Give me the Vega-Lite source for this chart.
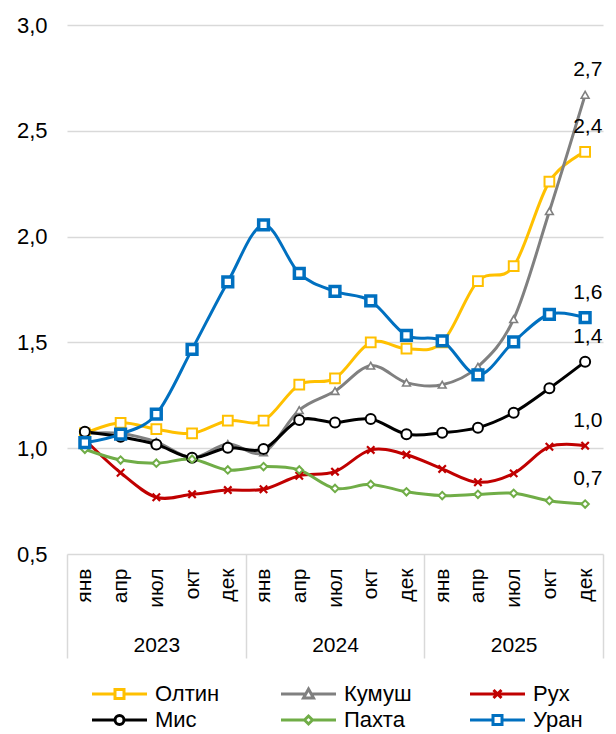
{
  "$schema": "https://vega.github.io/schema/vega-lite/v6.json",
  "width": 536,
  "height": 529,
  "autosize": "none",
  "padding": {"left": 67, "top": 25, "right": 13, "bottom": 180},
  "background": "white",
  "config": {
    "font": "Liberation Sans",
    "view": {"stroke": null},
    "locale": {"number": {"decimal": ",", "thousands": " ", "grouping": [3], "currency": ["", ""]}}
  },
  "data": {"values": [
    {"s":"Олтин","p":"2023 янв","v":1.07},{"s":"Олтин","p":"2023 апр","v":1.12},{"s":"Олтин","p":"2023 июл","v":1.09},{"s":"Олтин","p":"2023 окт","v":1.07},{"s":"Олтин","p":"2023 дек","v":1.13},
    {"s":"Олтин","p":"2024 янв","v":1.13},{"s":"Олтин","p":"2024 апр","v":1.30},{"s":"Олтин","p":"2024 июл","v":1.33},{"s":"Олтин","p":"2024 окт","v":1.50},{"s":"Олтин","p":"2024 дек","v":1.47},
    {"s":"Олтин","p":"2025 янв","v":1.50},{"s":"Олтин","p":"2025 апр","v":1.79},{"s":"Олтин","p":"2025 июл","v":1.86},{"s":"Олтин","p":"2025 окт","v":2.26},{"s":"Олтин","p":"2025 дек","v":2.40},
    {"s":"Кумуш","p":"2023 янв","v":1.07},{"s":"Кумуш","p":"2023 апр","v":1.07},{"s":"Кумуш","p":"2023 июл","v":1.03},{"s":"Кумуш","p":"2023 окт","v":0.955},{"s":"Кумуш","p":"2023 дек","v":1.02},
    {"s":"Кумуш","p":"2024 янв","v":0.98},{"s":"Кумуш","p":"2024 апр","v":1.18},{"s":"Кумуш","p":"2024 июл","v":1.27},{"s":"Кумуш","p":"2024 окт","v":1.39},{"s":"Кумуш","p":"2024 дек","v":1.31},
    {"s":"Кумуш","p":"2025 янв","v":1.30},{"s":"Кумуш","p":"2025 апр","v":1.385},{"s":"Кумуш","p":"2025 июл","v":1.61},{"s":"Кумуш","p":"2025 окт","v":2.12},{"s":"Кумуш","p":"2025 дек","v":2.67},
    {"s":"Рух","p":"2023 янв","v":1.04},{"s":"Рух","p":"2023 апр","v":0.884},{"s":"Рух","p":"2023 июл","v":0.768},{"s":"Рух","p":"2023 окт","v":0.782},{"s":"Рух","p":"2023 дек","v":0.802},
    {"s":"Рух","p":"2024 янв","v":0.806},{"s":"Рух","p":"2024 апр","v":0.870},{"s":"Рух","p":"2024 июл","v":0.889},{"s":"Рух","p":"2024 окт","v":0.992},{"s":"Рух","p":"2024 дек","v":0.969},
    {"s":"Рух","p":"2025 янв","v":0.902},{"s":"Рух","p":"2025 апр","v":0.839},{"s":"Рух","p":"2025 июл","v":0.881},{"s":"Рух","p":"2025 окт","v":1.007},{"s":"Рух","p":"2025 дек","v":1.012},
    {"s":"Мис","p":"2023 янв","v":1.078},{"s":"Мис","p":"2023 апр","v":1.054},{"s":"Мис","p":"2023 июл","v":1.018},{"s":"Мис","p":"2023 окт","v":0.955},{"s":"Мис","p":"2023 дек","v":1.002},
    {"s":"Мис","p":"2024 янв","v":0.996},{"s":"Мис","p":"2024 апр","v":1.133},{"s":"Мис","p":"2024 июл","v":1.122},{"s":"Мис","p":"2024 окт","v":1.138},{"s":"Мис","p":"2024 дек","v":1.066},
    {"s":"Мис","p":"2025 янв","v":1.073},{"s":"Мис","p":"2025 апр","v":1.097},{"s":"Мис","p":"2025 июл","v":1.168},{"s":"Мис","p":"2025 окт","v":1.283},{"s":"Мис","p":"2025 дек","v":1.409},
    {"s":"Пахта","p":"2023 янв","v":0.995},{"s":"Пахта","p":"2023 апр","v":0.944},{"s":"Пахта","p":"2023 июл","v":0.929},{"s":"Пахта","p":"2023 окт","v":0.948},{"s":"Пахта","p":"2023 дек","v":0.897},
    {"s":"Пахта","p":"2024 янв","v":0.913},{"s":"Пахта","p":"2024 апр","v":0.897},{"s":"Пахта","p":"2024 июл","v":0.810},{"s":"Пахта","p":"2024 окт","v":0.829},{"s":"Пахта","p":"2024 дек","v":0.794},
    {"s":"Пахта","p":"2025 янв","v":0.776},{"s":"Пахта","p":"2025 апр","v":0.782},{"s":"Пахта","p":"2025 июл","v":0.787},{"s":"Пахта","p":"2025 окт","v":0.752},{"s":"Пахта","p":"2025 дек","v":0.736},
    {"s":"Уран","p":"2023 янв","v":1.026},{"s":"Уран","p":"2023 апр","v":1.067},{"s":"Уран","p":"2023 июл","v":1.161},{"s":"Уран","p":"2023 окт","v":1.467},{"s":"Уран","p":"2023 дек","v":1.786},
    {"s":"Уран","p":"2024 янв","v":2.055},{"s":"Уран","p":"2024 апр","v":1.826},{"s":"Уран","p":"2024 июл","v":1.741},{"s":"Уран","p":"2024 окт","v":1.696},{"s":"Уран","p":"2024 дек","v":1.533},
    {"s":"Уран","p":"2025 янв","v":1.507},{"s":"Уран","p":"2025 апр","v":1.346},{"s":"Уран","p":"2025 июл","v":1.503},{"s":"Уран","p":"2025 окт","v":1.633},{"s":"Уран","p":"2025 дек","v":1.617}
  ]},
  "layer": [
    {
      "data": {"values": [{"year": "2023"}, {"year": "2024"}, {"year": "2025"}]},
      "mark": {"type": "rule", "opacity": 0},
      "encoding": {
        "x": {
          "field": "year", "type": "nominal", "sort": null,
          "scale": {"type": "band", "paddingInner": 0, "paddingOuter": 0},
          "axis": {
            "orient": "bottom", "title": null, "domain": false, "grid": false,
            "tickBand": "extent", "tickSize": 104, "tickColor": "#D9D9D9", "tickWidth": 1.5,
            "labelAngle": 0, "labelFontSize": 21, "labelColor": "black",
            "labelPadding": -13, "labelBaseline": "middle", "labelAlign": "center"
          }
        }
      }
    },
    {
      "layer": [
        {
          "mark": {"type": "line", "interpolate": "cardinal", "strokeWidth": 3},
          "encoding": {
            "x": {
              "field": "p", "type": "ordinal", "sort": null,
              "scale": {"type": "point", "padding": 0.5, "domain": ["2023 янв","2023 апр","2023 июл","2023 окт","2023 дек","2024 янв","2024 апр","2024 июл","2024 окт","2024 дек","2025 янв","2025 апр","2025 июл","2025 окт","2025 дек"]},
              "axis": {
                "orient": "bottom", "title": null, "domain": false, "ticks": false, "grid": false,
                "labelAngle": -90, "labelAlign": "right", "labelBaseline": "middle",
                "labelPadding": 14, "labelFontSize": 21, "labelColor": "black",
                "labelExpr": "split(datum.value, ' ')[1]"
              }
            },
            "y": {
              "field": "v", "type": "quantitative",
              "scale": {"domain": [0.5, 3.0], "nice": false, "zero": false},
              "axis": {
                "title": null, "values": [0.5, 1, 1.5, 2, 2.5, 3], "format": ".1f",
                "domain": false, "ticks": false, "labelFontSize": 22, "labelColor": "black",
                "labelPadding": 20, "gridColor": "#D9D9D9", "gridWidth": 1.5
              }
            },
            "color": {
              "field": "s", "type": "nominal",
              "scale": {
                "domain": ["Олтин", "Кумуш", "Рух", "Мис", "Пахта", "Уран"],
                "range": ["#FFC000", "#808080", "#C00000", "#000000", "#70AD47", "#0070C0"]
              },
              "legend": {
                "title": null, "orient": "none", "legendX": 19, "legendY": 658,
                "direction": "horizontal", "columns": 3, "gridAlign": "all",
                "columnPadding": 52, "rowPadding": 4,
                "labelFontSize": 22, "labelColor": "black", "labelFont": "Liberation Sans",
                "symbolSize": 100, "labelOffset": 47, "symbolStrokeWidth": 3,
                "symbolFillColor": "white", "symbolOpacity": 1
              }
            }
          }
        },
        {
          "mark": {"type": "point", "filled": false, "opacity": 0},
          "encoding": {
            "x": {"field": "p", "type": "ordinal", "sort": null},
            "y": {"field": "v", "type": "quantitative"},
            "color": {
              "field": "s", "type": "nominal",
              "legend": {
                "title": null, "orient": "none", "legendX": 19, "legendY": 658,
                "direction": "horizontal", "columns": 3, "gridAlign": "all",
                "columnPadding": 52, "rowPadding": 4,
                "labelFontSize": 22, "labelColor": "black", "labelFont": "Liberation Sans",
                "symbolSize": 100, "labelOffset": 47, "symbolStrokeWidth": 3,
                "symbolFillColor": "white", "symbolOpacity": 1
              }
            },
            "shape": {
              "field": "s", "type": "nominal",
              "scale": {
                "domain": ["Олтин", "Кумуш", "Рух", "Мис", "Пахта", "Уран"],
                "range": [
                  "M-1,0H3.6M5.4,0H10M3.6,-0.9H5.4V0.9H3.6Z",
                  "M-1,0H3.9M5.1,0H10M4.5,-1L5.5,0.8H3.5Z",
                  "M-1,0H10M3.7,-0.8L5.3,0.8M3.7,0.8L5.3,-0.8",
                  "M-1,0H3.6M5.4,0H10M3.6,0A0.9,0.9,0,1,0,5.4,0A0.9,0.9,0,1,0,3.6,0Z",
                  "M-1,0H3.7M5.3,0H10M4.5,-0.8L5.3,0L4.5,0.8L3.7,0Z",
                  "M-1,0H3.6M5.4,0H10M3.6,-0.9H5.4V0.9H3.6Z"
                ]
              },
              "legend": {
                "title": null, "orient": "none", "legendX": 19, "legendY": 658,
                "direction": "horizontal", "columns": 3, "gridAlign": "all",
                "columnPadding": 52, "rowPadding": 4,
                "labelFontSize": 22, "labelColor": "black", "labelFont": "Liberation Sans",
                "symbolSize": 100, "labelOffset": 47, "symbolStrokeWidth": 3,
                "symbolFillColor": "white", "symbolOpacity": 1
              }
            }
          }
        },
        {
          "transform": [{"filter": "datum.s === 'Олтин'"}],
          "mark": {"type": "point", "shape": "square", "size": 95, "strokeWidth": 2, "stroke": "#FFC000", "fill": "white", "fillOpacity": 1, "opacity": 1},
          "encoding": {"x": {"field": "p", "type": "ordinal", "sort": null}, "y": {"field": "v", "type": "quantitative"}}
        },
        {
          "transform": [{"filter": "datum.s === 'Кумуш'"}],
          "mark": {"type": "point", "shape": "triangle-up", "size": 60, "strokeWidth": 1.6, "stroke": "#808080", "fill": "white", "fillOpacity": 1, "opacity": 1},
          "encoding": {"x": {"field": "p", "type": "ordinal", "sort": null}, "y": {"field": "v", "type": "quantitative"}}
        },
        {
          "transform": [{"filter": "datum.s === 'Рух'"}],
          "mark": {"type": "point", "shape": "M-1,-1L1,1M-1,1L1,-1", "size": 55, "strokeWidth": 2.2, "stroke": "#C00000", "fill": "white", "fillOpacity": 0, "opacity": 1},
          "encoding": {"x": {"field": "p", "type": "ordinal", "sort": null}, "y": {"field": "v", "type": "quantitative"}}
        },
        {
          "transform": [{"filter": "datum.s === 'Мис'"}],
          "mark": {"type": "point", "shape": "circle", "size": 100, "strokeWidth": 2, "stroke": "#000000", "fill": "white", "fillOpacity": 1, "opacity": 1},
          "encoding": {"x": {"field": "p", "type": "ordinal", "sort": null}, "y": {"field": "v", "type": "quantitative"}}
        },
        {
          "transform": [{"filter": "datum.s === 'Пахта'"}],
          "mark": {"type": "point", "shape": "diamond", "size": 55, "strokeWidth": 2, "stroke": "#70AD47", "fill": "white", "fillOpacity": 1, "opacity": 1},
          "encoding": {"x": {"field": "p", "type": "ordinal", "sort": null}, "y": {"field": "v", "type": "quantitative"}}
        },
        {
          "transform": [{"filter": "datum.s === 'Уран'"}],
          "mark": {"type": "point", "shape": "square", "size": 95, "strokeWidth": 3.5, "stroke": "#0070C0", "fill": "white", "fillOpacity": 1, "opacity": 1},
          "encoding": {"x": {"field": "p", "type": "ordinal", "sort": null}, "y": {"field": "v", "type": "quantitative"}}
        },
        {
          "transform": [{"filter": "datum.p === '2025 дек'"}],
          "mark": {"type": "text", "align": "left", "baseline": "middle", "dx": -12, "dy": -25, "fontSize": 21, "color": "black"},
          "encoding": {
            "x": {"field": "p", "type": "ordinal", "sort": null},
            "y": {"field": "v", "type": "quantitative"},
            "text": {"field": "v", "type": "quantitative", "format": ".1f"}
          }
        }
      ]
    }
  ],
  "resolve": {"scale": {"x": "independent"}, "axis": {"x": "independent"}}
}
